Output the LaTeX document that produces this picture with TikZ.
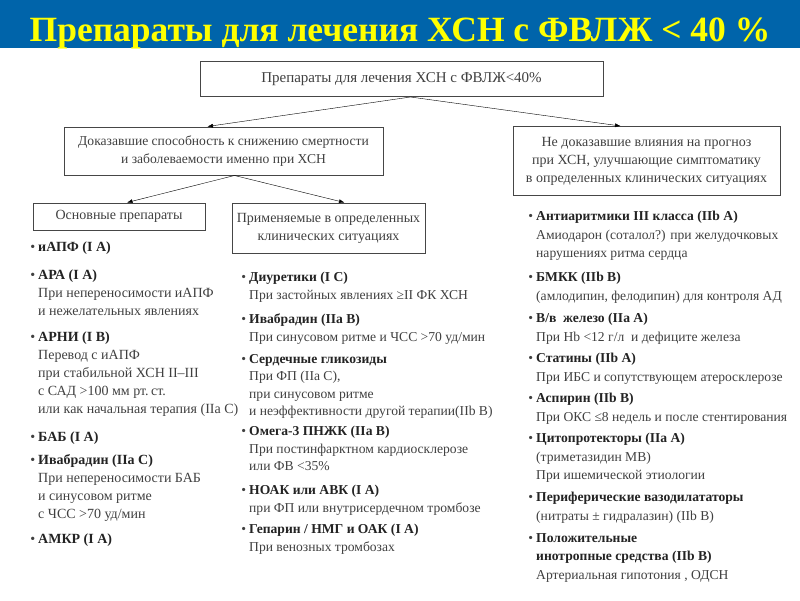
\documentclass[tikz,border=0pt]{standalone}
\usepackage{fontspec}
\setmainfont{Liberation Serif}
\usetikzlibrary{arrows.meta, positioning}
\definecolor{barblue}{RGB}{0,100,170}
\definecolor{titleyellow}{RGB}{255,255,0}
\definecolor{txtgray}{RGB}{64,64,64}
\definecolor{hdgray}{RGB}{35,35,35}
\definecolor{linegray}{RGB}{70,70,70}
\newcommand{\hd}[1]{\llap{\textbullet\hspace{3pt}}\textbf{\color{hdgray}#1}}
\newcommand{\hdb}[1]{\textbf{\color{hdgray}#1}}

\begin{document}
\begin{tikzpicture}[
    x=1pt, y=-1pt,
    >={Latex[length=5.5pt,width=4pt]},
    every node/.style={font=\fontsize{14}{18}\selectfont, text=txtgray},
    box/.style={draw=linegray, line width=1pt, align=center, inner sep=0pt},
    item/.style={anchor=north west, align=left, inner sep=0pt, execute at begin node=\strut},
    lcol/.style={item, font=\fontsize{14}{18}\selectfont},
    mcol/.style={item, font=\fontsize{13.6}{17.5}\selectfont},
    rcol/.style={item, font=\fontsize{13.6}{18.6}\selectfont},
]
\useasboundingbox (0,0) rectangle (800,600);
% title bar
\fill[barblue] (0,0) rectangle (800,48);
\node[anchor=base, font=\fontsize{35.5}{40}\selectfont\bfseries, text=titleyellow]
   (title) at (400,41) {Препараты для лечения ХСН с ФВЛЖ < 40 \%};
% boxes
\node[box, minimum width=403pt, minimum height=35pt, font=\fontsize{15}{18}\selectfont]
   (head) at (401.5,79) {Препараты для лечения ХСН с ФВЛЖ<40\%};
\node[box, minimum width=319pt, minimum height=48pt, font=\fontsize{13.6}{18}\selectfont]
   (proven) at (223.5,151)
   {Доказавшие способность к снижению смертности\\и заболеваемости именно при ХСН};
\node[box, minimum width=267pt, minimum height=69pt] (unproven) at (646.5,161)
   {Не доказавшие влияния на прогноз\\при ХСН, улучшающие симптоматику\\в определенных клинических ситуациях};
\node[box, minimum width=172pt, minimum height=27pt] (basic) at (119,216.5)
   {Основные препараты};
\node[box, minimum width=193pt, minimum height=50pt] (special) at (328.5,228)
   {Применяемые в определенных\\клинических ситуациях};
% arrows
\draw[->] ([xshift=9pt]head.south) -- ([xshift=-16pt]proven.north);
\draw[->] ([xshift=9pt]head.south) -- ([xshift=-26pt]unproven.north);
\draw[->] ([xshift=11pt]proven.south) -- ([xshift=8pt]basic.north);
\draw[->] ([xshift=11pt]proven.south) -- ([xshift=16pt]special.north);
% main drugs
\node[lcol] (l1) at (38,239) {\hd{иАПФ (I A)}};
\node[lcol] (l2) at (38,270) {\hd{АРА (I A)}\\При непереносимости иАПФ\\и нежелательных явлениях};
\node[lcol] (l3) at (38,332) {\hd{АРНИ (I B)}\\Перевод с иАПФ\\при стабильной ХСН II–III\\с САД >100 мм рт.\,ст.\\или как начальная терапия (IIa C)};
\node[lcol] (l4) at (38,429) {\hd{БАБ (I A)}};
\node[lcol] (l5) at (38,454) {\hd{Ивабрадин (IIa C)}\\При непереносимости БАБ\\и синусовом ритме\\с ЧСС >70 уд/мин};
\node[lcol] (l6) at (38,531) {\hd{АМКР (I A)}};
% situational drugs
\node[mcol] (m1) at (249,272) {\hd{Диуретики (I C)}\\При застойных явлениях ≥II ФК ХСН};
\node[mcol] (m2) at (249,314) {\hd{Ивабрадин (IIa B)}\\При синусовом ритме и ЧСС >70 уд/мин};
\node[mcol] (m3) at (249,354) {\hd{Сердечные гликозиды}\\При ФП (IIa C),\\при синусовом ритме\\и неэффективности другой терапии(IIb B)};
\node[mcol] (m4) at (249,426) {\hd{Омега-3 ПНЖК (IIa B)}\\При постинфарктном кардиосклерозе\\или ФВ <35\%};
\node[mcol] (m5) at (249,485) {\hd{НОАК или АВК (I A)}\\при ФП или внутрисердечном тромбозе};
\node[mcol] (m6) at (249,524) {\hd{Гепарин / НМГ и ОАК (I A)}\\При венозных тромбозах};
% symptomatic drugs
\node[rcol] (r1) at (536,211) {\hd{Антиаритмики III класса (IIb A)}\\Амиодарон (соталол?) при желудочковых\\нарушениях ритма сердца};
\node[rcol] (r2) at (536,272) {\hd{БМКК (IIb B)}\\(амлодипин, фелодипин) для контроля АД};
\node[rcol] (r3) at (536,313) {\hd{В/в\ \ железо (IIa A)}\\При Hb <12 г/л\ \ и дефиците железа};
\node[rcol] (r4) at (536,353) {\hd{Статины (IIb A)}\\При ИБС и сопутствующем атеросклерозе};
\node[rcol] (r5) at (536,393) {\hd{Аспирин (IIb B)}\\При ОКС ≤8 недель и после стентирования};
\node[rcol] (r6) at (536,433) {\hd{Цитопротекторы (IIa A)}\\(триметазидин MB)\\При ишемической этиологии};
\node[rcol] (r7) at (536,492) {\hd{Периферические вазодилататоры}\\(нитраты ± гидралазин) (IIb B)};
\node[rcol] (r8) at (536,533) {\hd{Положительные}\\\hdb{инотропные средства (IIb B)}\\Артериальная гипотония , ОДСН};
\end{tikzpicture}
\end{document}
